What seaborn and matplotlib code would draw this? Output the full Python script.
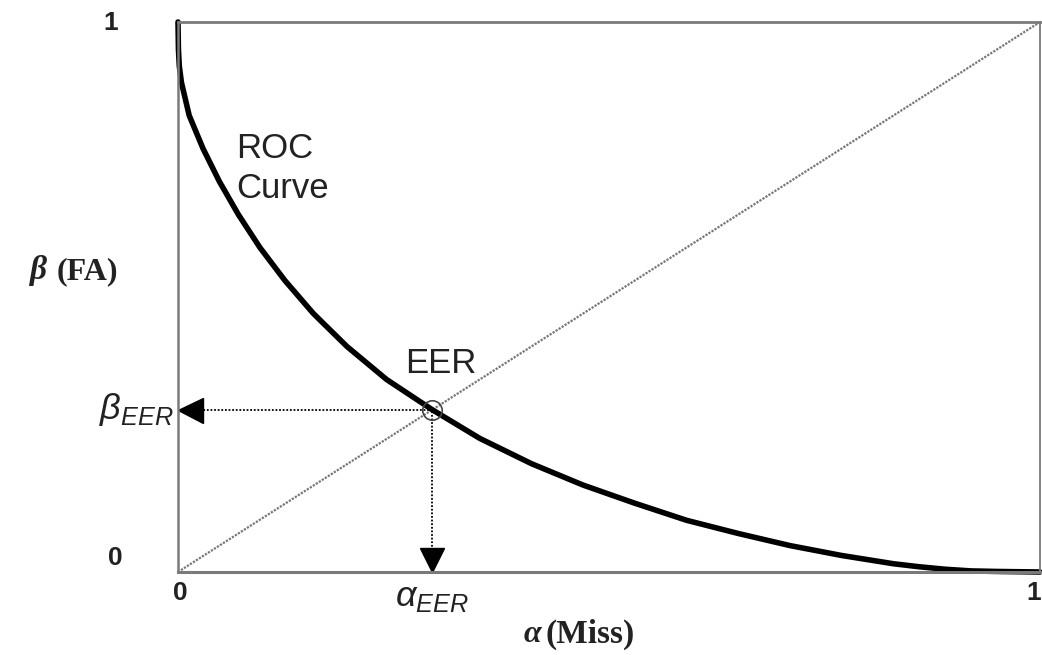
import matplotlib
matplotlib.use("Agg")
import matplotlib.pyplot as plt
import seaborn as sns
import pandas as pd

# ---- data ----
roc_miss = [0.0, 0.0005, 0.0015, 0.004, 0.0085, 0.013, 0.029, 0.048, 0.070, 0.095,
            0.124, 0.157, 0.196, 0.242, 0.295, 0.350, 0.410, 0.470, 0.530, 0.590,
            0.650, 0.710, 0.770, 0.830, 0.860, 0.890, 0.920, 0.950, 1.0]
roc_fa = [1.0, 0.950, 0.920, 0.890, 0.860, 0.830, 0.770, 0.710, 0.650, 0.590,
          0.530, 0.470, 0.410, 0.350, 0.295, 0.243, 0.197, 0.158, 0.125, 0.094,
          0.070, 0.048, 0.030, 0.015, 0.0095, 0.005, 0.002, 0.001, 0.0]
diag_x = [0.0, 1.0]
diag_y = [0.0, 1.0]
eer_x = 0.295
eer_y = 0.295
tick_vals = [0, 1]
tick_labels = ["0", "1"]

sns.set_style("white")
plt.rcParams["mathtext.fontset"] = "custom"
plt.rcParams["mathtext.rm"] = "Liberation Sans"
plt.rcParams["mathtext.it"] = "Liberation Sans:italic"

fig = plt.figure(figsize=(10.42, 6.55), dpi=100)
ax = fig.add_axes([178 / 1042, 83 / 655, 862 / 1042, 550 / 655])

roc_df = pd.DataFrame({"miss": roc_miss, "fa": roc_fa})
diag_df = pd.DataFrame({"miss": diag_x, "fa": diag_y})

sns.lineplot(data=diag_df, x="miss", y="fa", ax=ax, color="#777777", lw=1.6,
             linestyle=(0, (1, 0.6)), sort=False)
sns.lineplot(data=roc_df, x="miss", y="fa", ax=ax, color="black", lw=4.0,
             sort=False, clip_on=False, solid_joinstyle="round",
             solid_capstyle="round")

# dotted guide lines to the axes
ax.plot([0, eer_x], [eer_y, eer_y], color="black", lw=1.3, linestyle=(0, (1, 1)))
ax.plot([eer_x, eer_x], [0, eer_y], color="black", lw=1.3, linestyle=(0, (1, 1)))
# arrow heads
ax.plot([0.0145], [eer_y], marker="<", markersize=18, color="black", clip_on=False)
ax.plot([eer_x], [0.021], marker="v", markersize=17, color="black", clip_on=False)
# EER circle
ax.plot([eer_x], [eer_y], marker="o", markersize=14, mfc="none", mec="#444444",
        mew=1.2)

ax.set_xlim(0, 1)
ax.set_ylim(0, 1)
ax.set_xticks([])
ax.set_yticks([])
ax.set_xlabel("")
ax.set_ylabel("")

for side, lw in [("top", 2.0), ("bottom", 2.2), ("left", 1.8), ("right", 1.3)]:
    ax.spines[side].set_visible(True)
    ax.spines[side].set_color("#7a7a7a")
    ax.spines[side].set_linewidth(lw)

sans = "Liberation Sans"
serif = "Liberation Serif"
tc = "#222222"

# tick labels
ax.annotate(tick_labels[1], xy=(0, tick_vals[1]), xytext=(-43, -1),
            textcoords="offset points", ha="right", va="center",
            fontsize=19, fontweight="bold", family=sans, color=tc,
            annotation_clip=False)
ax.annotate(tick_labels[0], xy=(0, tick_vals[0]), xytext=(-40, 10),
            textcoords="offset points", ha="right", va="center",
            fontsize=19, fontweight="bold", family=sans, color=tc,
            annotation_clip=False)
ax.annotate(tick_labels[0], xy=(tick_vals[0], 0), xytext=(2, -15),
            textcoords="offset points", ha="center", va="center",
            fontsize=19, fontweight="bold", family=sans, color=tc,
            annotation_clip=False)
ax.annotate(tick_labels[1], xy=(tick_vals[1], 0), xytext=(1, -15),
            textcoords="offset points", ha="right", va="center",
            fontsize=19, fontweight="bold", family=sans, color=tc,
            annotation_clip=False)

# EER markers on axes
ax.annotate(r"$\beta_{EER}$", xy=(0, eer_y), xytext=(-3, 0),
            textcoords="offset points", ha="right", va="center",
            fontsize=26, color=tc, annotation_clip=False)
ax.annotate(r"$\alpha_{EER}$", xy=(eer_x, 0), xytext=(0, -6),
            textcoords="offset points", ha="center", va="top",
            fontsize=26, color=tc, annotation_clip=False)

# axis labels
ax.annotate("β", xy=(0, 0.549), xytext=(-95, 0), textcoords="offset points",
            ha="right", va="center", fontsize=24, fontweight="bold",
            fontstyle="italic", family=serif, color=tc,
            annotation_clip=False)
ax.annotate("(FA)", xy=(0, 0.549), xytext=(-43, -1), textcoords="offset points",
            ha="right", va="center", fontsize=23, fontweight="bold",
            family=serif, color=tc, annotation_clip=False)
ax.annotate("α", xy=(0.472, 0), xytext=(-31, -45), textcoords="offset points",
            ha="right", va="center", fontsize=23, fontweight="bold",
            fontstyle="italic", family=serif, color=tc,
            annotation_clip=False)
ax.annotate("(Miss)", xy=(0.472, 0), xytext=(-28, -45), textcoords="offset points",
            ha="left", va="center", fontsize=24, fontweight="bold",
            family=serif, color=tc, annotation_clip=False)

# in-plot labels
ax.text(0.067, 0.80, "ROC\nCurve", ha="left", va="top", fontsize=25,
        family=sans, color=tc, linespacing=1.28)
ax.text(0.263, 0.362, "EER", ha="left", va="baseline", fontsize=25,
        family=sans, color=tc)

fig.savefig("out.png", dpi=100)
